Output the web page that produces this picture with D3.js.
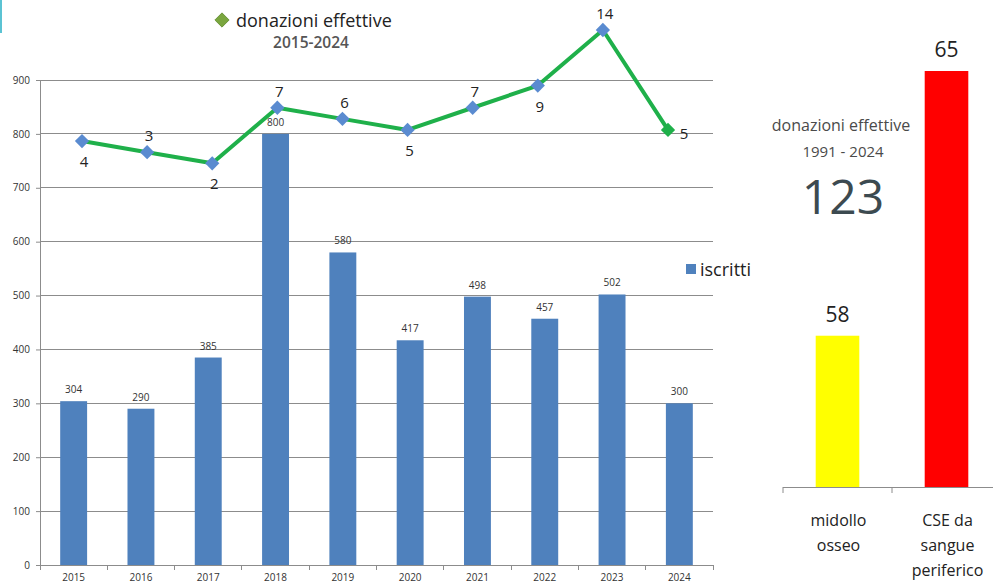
<!DOCTYPE html>
<html>
<head>
<meta charset="utf-8">
<script src="https://cdn.jsdelivr.net/npm/d3@7"></script>
<style>
  html, body { margin:0; padding:0; background:#fff; }
  svg { display:block; font-family:"Open Sans", "DejaVu Sans", sans-serif; }
</style>
</head>
<body>
<svg id="chart" width="993" height="584"></svg>
<script>
// --- data ---
const years = ['2015','2016','2017','2018','2019','2020','2021','2022','2023','2024'];
const iscritti = [304, 290, 385, 800, 580, 417, 498, 457, 502, 300];
const donazioni = [4, 3, 2, 7, 6, 5, 7, 9, 14, 5];
const donLabelPos = ['below','above','below','above','above','below','above','below','above','right'];
const yTicks = [0, 100, 200, 300, 400, 500, 600, 700, 800, 900];

const tipi = [['midollo','osseo'], ['CSE da','sangue','periferico']];
const tipiValori = [58, 65];
const tipiColori = ['#ffff00', '#ff0000'];
const totale = 123;

const svg = d3.select('#chart');

// small teal strip top-left
svg.append('rect').attr('x',0).attr('y',0).attr('width',2).attr('height',33).attr('fill','#5bc3d3');

// --- left chart: scales ---
const x = d3.scaleBand().domain(years).range([40, 713]).paddingInner(0.6).paddingOuter(0.3);
const y = d3.scaleLinear().domain([0, 900]).range([565, 80]);
// line overlay sits on its own (hidden) scales
const x2 = d3.scalePoint().domain(years).range([82, 668]);
const y2 = d3.scaleLinear().domain([0, 14]).range([185.5, 30]);

// gridlines
svg.append('g').selectAll('line').data(yTicks.filter(d => d > 0)).join('line')
  .attr('x1', 40).attr('x2', 713)
  .attr('y1', d => y(d)).attr('y2', d => y(d))
  .attr('stroke', '#8c8c8c').attr('stroke-width', 1).attr('shape-rendering','crispEdges');

// y axis
const yAxis = svg.append('g').attr('transform','translate(40,0)')
  .call(d3.axisLeft(y).tickValues(yTicks).tickSize(4).tickPadding(6));
yAxis.select('.domain').attr('stroke','#8c8c8c');
yAxis.selectAll('.tick line').attr('stroke','#8c8c8c');
yAxis.selectAll('text').attr('font-size', 10).attr('fill','#333').attr('font-family','"Open Sans", sans-serif');

// x axis baseline + boundary ticks
const xa = svg.append('g');
xa.append('line').attr('x1',40).attr('x2',713).attr('y1',y(0)).attr('y2',y(0))
  .attr('stroke','#8c8c8c').attr('shape-rendering','crispEdges');
const bounds = years.map(d => x(d) - x.step()*x.paddingInner()/2).concat([713]);
xa.selectAll('line.tk').data(bounds).join('line').attr('class','tk')
  .attr('x1', d => d).attr('x2', d => d).attr('y1', y(0)).attr('y2', y(0)+5)
  .attr('stroke','#8c8c8c').attr('shape-rendering','crispEdges');
xa.selectAll('text').data(years).join('text')
  .attr('x', d => x(d) + x.bandwidth()/2).attr('y', 581)
  .attr('text-anchor','middle').attr('font-size', 10).attr('fill','#333')
  .text(d => d);

// bars
svg.append('g').selectAll('rect').data(iscritti).join('rect')
  .attr('x', (d,i) => x(years[i])).attr('width', x.bandwidth())
  .attr('y', d => y(d)).attr('height', d => y(0) - y(d))
  .attr('fill', '#4f81bd');
svg.append('g').selectAll('text').data(iscritti).join('text')
  .attr('x', (d,i) => x(years[i]) + x.bandwidth()/2).attr('y', d => y(d) - 8)
  .attr('text-anchor','middle').attr('font-size', 10).attr('fill','#333')
  .text(d => d);

// legend iscritti
svg.append('rect').attr('x',686).attr('y',264).attr('width',10).attr('height',10).attr('fill','#4f81bd');
svg.append('text').attr('x',700).attr('y',276).attr('font-size',18).attr('fill','#222').text('iscritti');

// line donazioni
const line = d3.line().x((d,i) => x2(years[i])).y(d => y2(d));
svg.append('path').datum(donazioni).attr('d', line)
  .attr('fill','none').attr('stroke','#1fb04a').attr('stroke-width',4).attr('stroke-linejoin','round');
const diamond = d3.symbol().type(d3.symbolDiamond2).size(130);
svg.append('g').selectAll('path').data(donazioni).join('path')
  .attr('d', diamond)
  .attr('transform', (d,i) => `translate(${x2(years[i])},${y2(d)})`)
  .attr('fill', (d,i) => i === donazioni.length-1 ? '#1fb04a' : '#5a8bd0');
svg.append('g').selectAll('text').data(donazioni).join('text')
  .attr('x', (d,i) => x2(years[i]) + (donLabelPos[i] === 'right' ? 16 : 2))
  .attr('y', (d,i) => y2(d) + (donLabelPos[i] === 'above' ? -11 : donLabelPos[i] === 'below' ? 26 : 9))
  .attr('text-anchor','middle').attr('font-size', 15).attr('fill','#222')
  .text(d => d);

// title
svg.append('path').attr('d', d3.symbol().type(d3.symbolDiamond2).size(130))
  .attr('transform','translate(222,20)').attr('fill','#7aa63f').attr('stroke','#5e8a2c').attr('stroke-width',0.8);
svg.append('text').attr('x',236).attr('y',27).attr('font-size',18).attr('fill','#222').text('donazioni effettive');
svg.append('text').attr('x',311).attr('y',48).attr('text-anchor','middle')
  .attr('font-size',15.5).attr('font-weight',600).attr('fill','#555').text('2015-2024');

// --- right panel ---
const rx = d3.scaleBand().domain([0,1]).range([783, 1001]).paddingInner(0.6).paddingOuter(0.3);
const ry = d3.scaleLinear().domain([54, 65]).range([487, 71]);

svg.append('g').selectAll('rect').data(tipiValori).join('rect')
  .attr('x', (d,i) => rx(i)).attr('width', rx.bandwidth())
  .attr('y', d => ry(d)).attr('height', d => 487 - ry(d))
  .attr('fill', (d,i) => tipiColori[i]);
svg.append('g').selectAll('text').data(tipiValori).join('text')
  .attr('x', (d,i) => rx(i) + rx.bandwidth()/2).attr('y', d => ry(d) - 14)
  .attr('text-anchor','middle').attr('font-size', 21).attr('fill','#222')
  .text(d => d);

const ra = svg.append('g');
ra.append('line').attr('x1',783).attr('x2',993).attr('y1',487.5).attr('y2',487.5).attr('stroke','#8c8c8c');
ra.selectAll('line.tk').data([0,1]).join('line').attr('class','tk')
  .attr('x1', i => rx(i) - rx.step()*rx.paddingInner()/2).attr('x2', i => rx(i) - rx.step()*rx.paddingInner()/2)
  .attr('y1',487).attr('y2',493).attr('stroke','#8c8c8c');
tipi.forEach((lines, i) => {
  const t = ra.append('text').attr('text-anchor','middle').attr('font-size',16).attr('fill','#222');
  lines.forEach((s, j) => {
    t.append('tspan').attr('x', rx(i) + rx.bandwidth()/2 + 1).attr('y', 526 + j*25).text(s);
  });
});

svg.append('text').attr('x',841).attr('y',131).attr('text-anchor','middle')
  .attr('font-size',16).attr('fill','#4a4a4a').text('donazioni effettive');
svg.append('text').attr('x',843).attr('y',157).attr('text-anchor','middle')
  .attr('font-size',15).attr('fill','#4a4a4a').text('1991 - 2024');
svg.append('text').attr('x',843).attr('y',214).attr('text-anchor','middle')
  .attr('font-size',48).attr('fill','#3c4a50').text(totale);
</script>
</body>
</html>
